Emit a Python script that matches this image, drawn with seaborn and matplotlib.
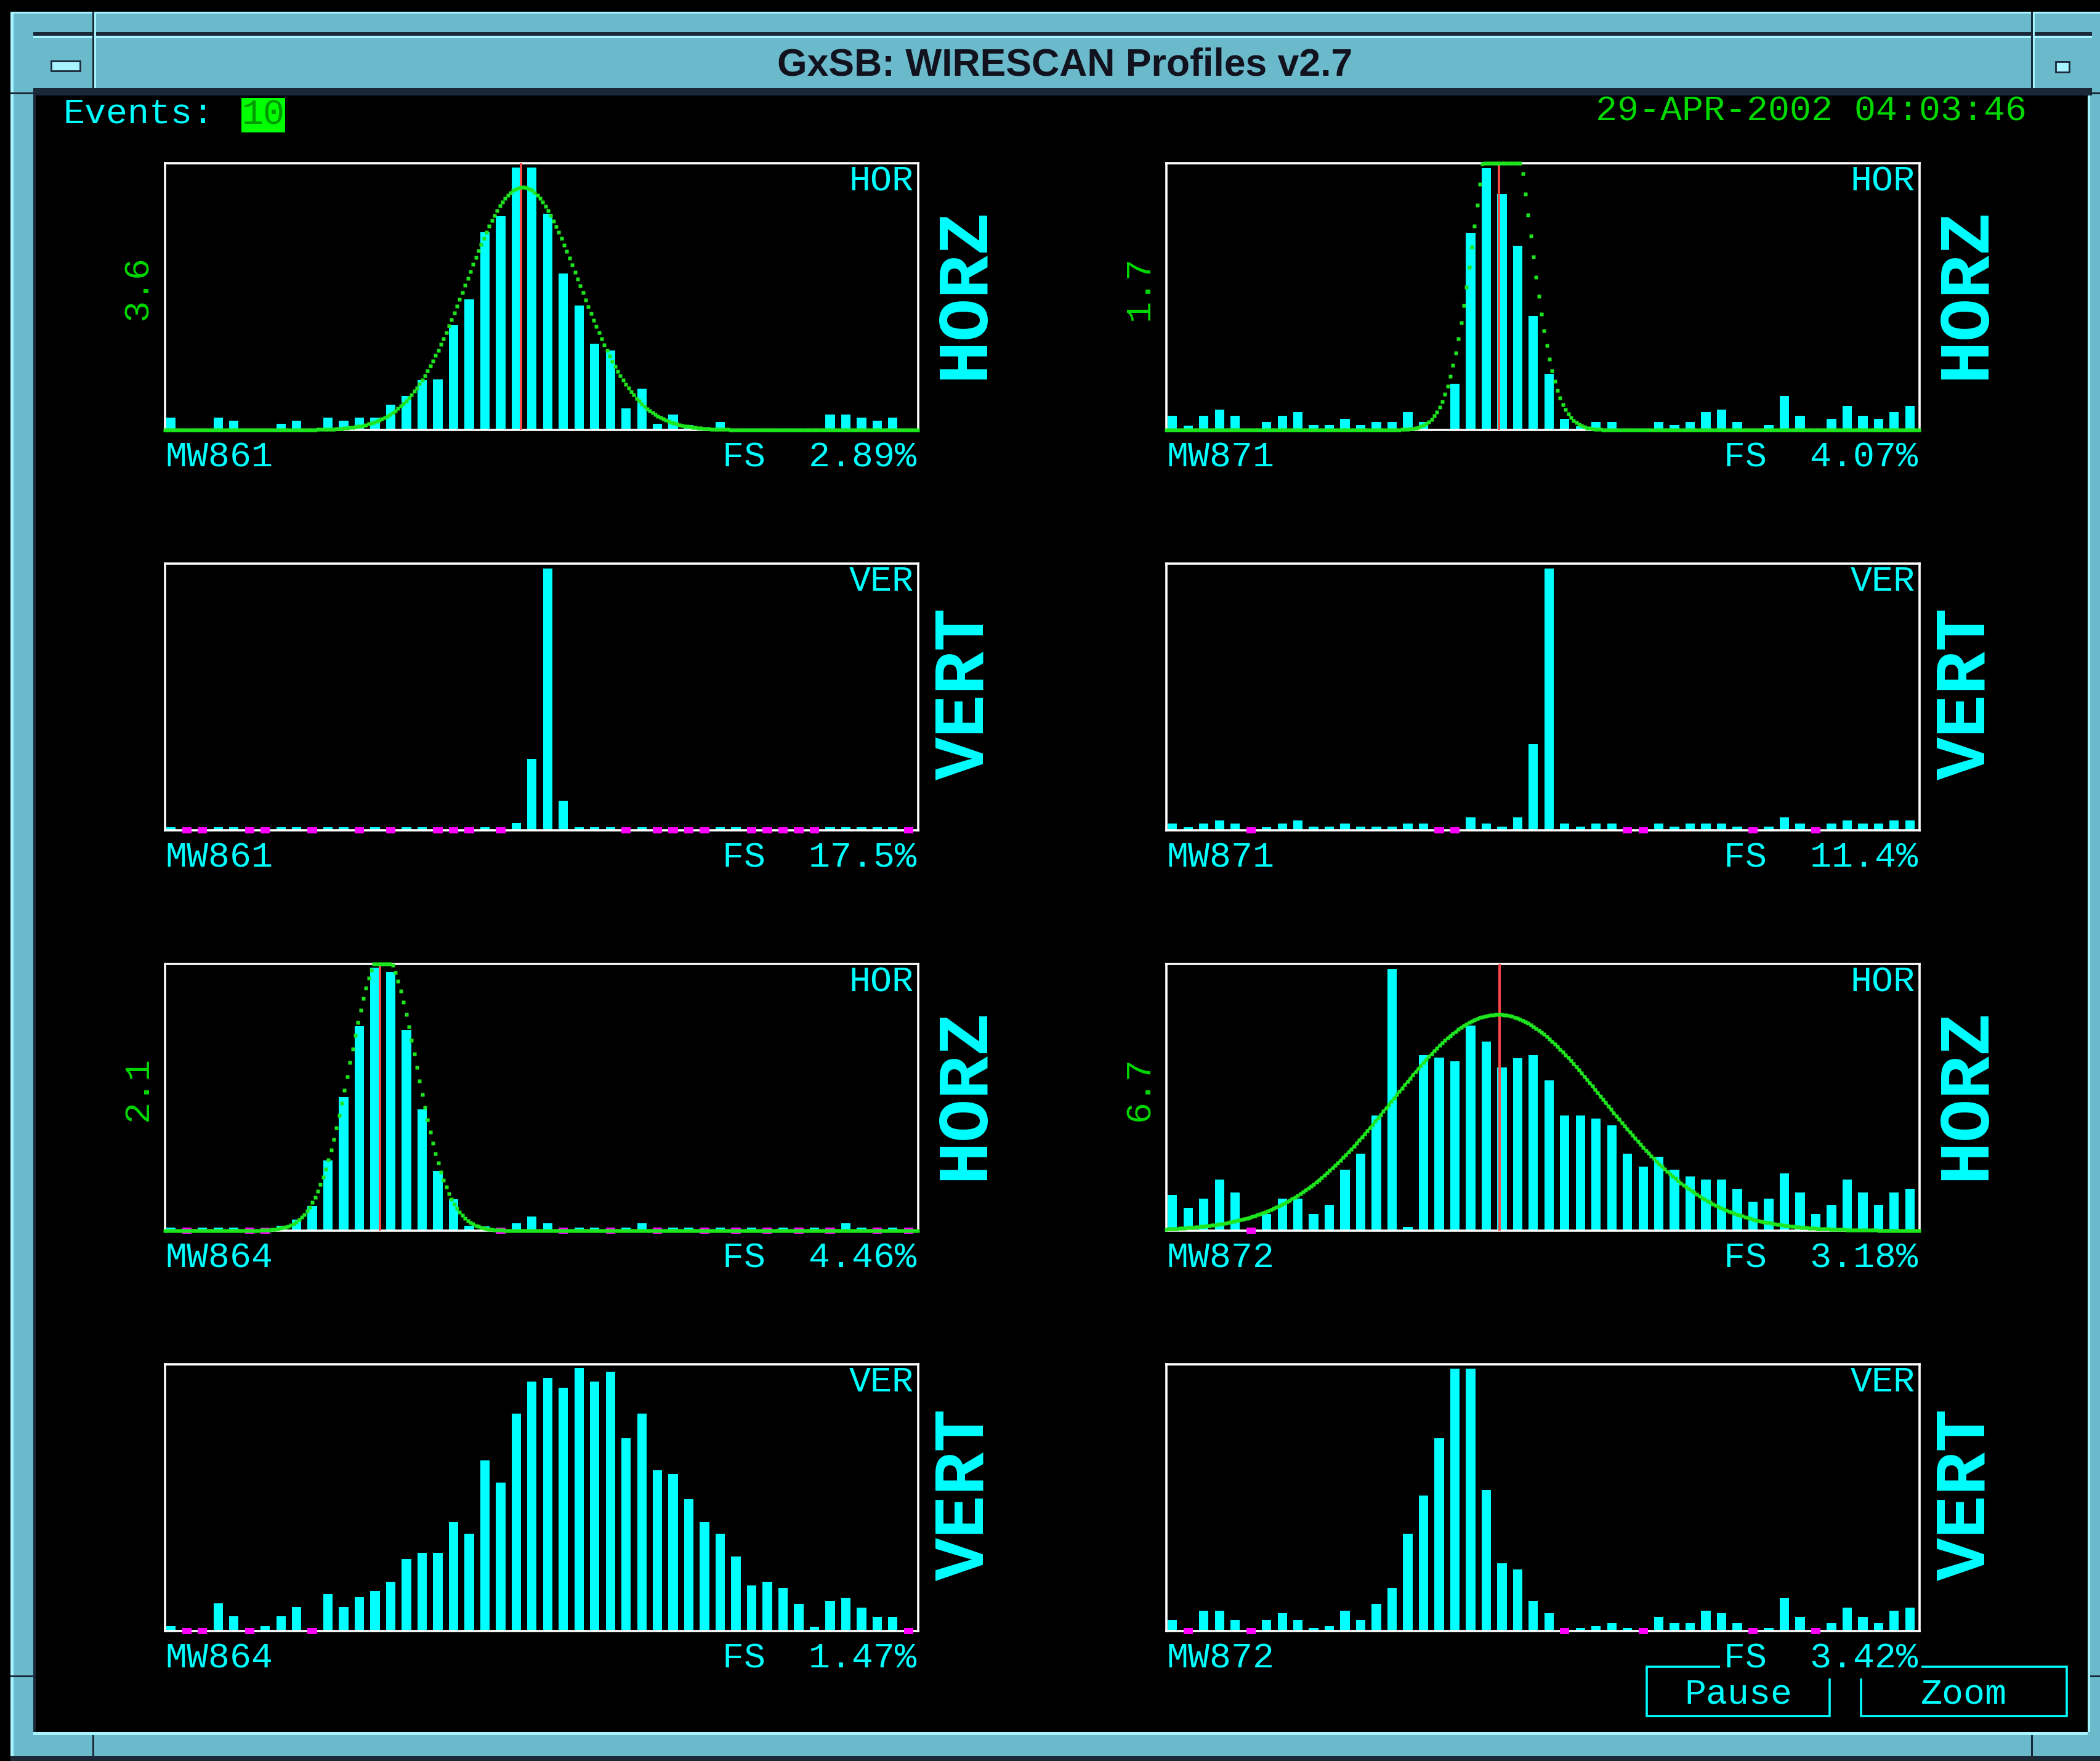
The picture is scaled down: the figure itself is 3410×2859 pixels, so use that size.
import numpy as np
import pandas as pd
import matplotlib
matplotlib.use("Agg")
import matplotlib.pyplot as plt
from matplotlib.patches import Rectangle
import seaborn as sns

# ---------------------------------------------------------------------------
# Wire-scanner profiles: 48 wire channels per plane, level as fraction of
# the full-scale reading.  Negative entries are channels below pedestal.
# ---------------------------------------------------------------------------
N_BINS = 48

mw861_hor = [0.046, 0, 0, 0.046, 0.035, 0, 0, 0.023, 0.035, 0,
             0.046, 0.035, 0.046, 0.046, 0.095, 0.127, 0.188, 0.189, 0.392, 0.490,
             0.742, 0.802, 0.984, 0.984, 0.810, 0.586, 0.467, 0.323, 0.297, 0.081,
             0.154, 0.022, 0.058, 0.019, 0, 0.031, 0, 0, 0, 0,
             0, 0, 0.058, 0.058, 0.046, 0.035, 0.046, 0]

mw871_hor = [0.054, 0.017, 0.054, 0.077, 0.054, 0, 0.031, 0.054, 0.068, 0.019,
             0.019, 0.042, 0.019, 0.031, 0.031, 0.068, 0.031, 0, 0.174, 0.739,
             0.981, 0.884, 0.691, 0.427, 0.211, 0.042, 0.015, 0.031, 0.031, 0,
             0, 0.031, 0.019, 0.031, 0.068, 0.077, 0.031, 0, 0.019, 0.126,
             0.054, 0, 0.042, 0.091, 0.054, 0.042, 0.066, 0.091]

mw861_ver = [0.012, -0.012, -0.012, 0.012, 0.012, -0.012, -0.012, 0.012, 0.012, -0.012,
             0.012, 0.012, -0.012, 0.012, -0.012, 0.012, 0.012, -0.012, -0.012, -0.012,
             0.012, -0.012, 0.027, 0.267, 0.982, 0.111, 0.012, 0.012, 0.012, -0.012,
             0.012, -0.012, -0.012, -0.012, -0.012, 0.012, 0.012, -0.012, -0.012, -0.012,
             -0.012, -0.012, 0.012, 0.012, 0.012, 0.012, 0.012, -0.012]

mw871_ver = [0.025, 0.012, 0.025, 0.036, 0.025, -0.012, 0.012, 0.025, 0.036, 0.015,
             0.015, 0.025, 0.015, 0.015, 0.015, 0.025, 0.025, -0.012, -0.012, 0.048,
             0.025, 0.015, 0.048, 0.323, 0.982, 0.025, 0.015, 0.025, 0.025, -0.012,
             -0.012, 0.025, 0.015, 0.025, 0.025, 0.025, 0.015, -0.012, 0.015, 0.048,
             0.025, -0.012, 0.025, 0.036, 0.025, 0.025, 0.036, 0.036]

mw864_hor = [0.012, -0.012, 0.012, 0.012, 0.012, -0.012, -0.012, 0.019, 0.042, 0.093,
             0.263, 0.502, 0.766, 0.985, 0.971, 0.753, 0.454, 0.225, 0.117, 0.019,
             0.017, -0.012, 0.027, 0.052, 0.027, -0.012, 0.012, 0.012, -0.012, 0.012,
             0.027, -0.012, 0.012, 0.012, -0.012, 0.012, -0.012, 0.012, -0.012, 0.012,
             -0.012, 0.012, -0.012, 0.027, 0.012, -0.012, 0.012, -0.012]

mw872_hor = [0.133, 0.085, 0.121, 0.192, 0.144, -0.012, 0.062, 0.121, 0.121, 0.062,
             0.096, 0.228, 0.288, 0.431, 0.982, 0.013, 0.659, 0.648, 0.636, 0.769,
             0.708, 0.612, 0.646, 0.659, 0.564, 0.431, 0.431, 0.421, 0.396, 0.288,
             0.241, 0.277, 0.228, 0.204, 0.192, 0.192, 0.156, 0.108, 0.121, 0.215,
             0.144, 0.062, 0.096, 0.192, 0.144, 0.096, 0.144, 0.156]

mw864_ver = [0.019, -0.012, -0.012, 0.103, 0.055, -0.012, 0.019, 0.055, 0.090, -0.012,
             0.138, 0.090, 0.126, 0.149, 0.185, 0.270, 0.293, 0.293, 0.408, 0.364,
             0.640, 0.556, 0.816, 0.936, 0.949, 0.913, 0.985, 0.936, 0.973, 0.722,
             0.816, 0.603, 0.588, 0.494, 0.408, 0.364, 0.280, 0.172, 0.185, 0.161,
             0.101, 0.017, 0.113, 0.124, 0.088, 0.054, 0.054, -0.012]

mw872_ver = [0.042, -0.012, 0.077, 0.077, 0.042, -0.012, 0.042, 0.067, 0.042, 0.012,
             0.019, 0.077, 0.042, 0.101, 0.161, 0.364, 0.508, 0.722, 0.984, 0.984,
             0.530, 0.255, 0.231, 0.113, 0.067, -0.012, 0.012, 0.019, 0.031, 0.012,
             -0.012, 0.054, 0.031, 0.031, 0.077, 0.067, 0.031, -0.012, 0.012, 0.125,
             0.054, -0.012, 0.031, 0.088, 0.054, 0.031, 0.077, 0.088]

# panel order: row by row, left column then right column
profiles = [mw861_hor, mw871_hor, mw861_ver, mw871_ver,
            mw864_hor, mw872_hor, mw864_ver, mw872_ver]
wire_names = ["MW861", "MW871", "MW861", "MW871", "MW864", "MW872", "MW864", "MW872"]
planes = ["HOR", "HOR", "VER", "VER", "HOR", "HOR", "VER", "VER"]
plane_words = {"HOR": "HORZ", "VER": "VERT"}
full_scale_pct = [2.89, 4.07, 17.5, 11.4, 4.46, 3.18, 1.47, 3.42]

# Gaussian fits of the horizontal planes (wire-bin units)
fit_panels = [0, 1, 4, 5]
fit_amplitude = [0.91, 1.30, 1.04, 0.81]
fit_centre = [22.4, 21.0, 13.5, 20.75]
fit_sigma = [3.6, 1.7, 2.1, 6.7]
centroid = [22.3, 20.8, 13.33, 20.83]
fit_solid = [False, False, False, True]

title = "GxSB: WIRESCAN Profiles v2.7"
event_count = "10"
timestamp = "29-APR-2002 04:03:46"
buttons = ["Pause", "Zoom"]

# ---------------------------------------------------------------------------
CYAN = "#00ffff"
MAGENTA = "#ff00ff"
GREEN = "#1ee61e"
LABEL_GREEN = "#00d800"
RED = "#ff4a4a"
FRAME = "#6bbacb"
LIGHT = "#a6f4ff"
DARK = "#1b2838"

W, H = 3410, 2859
sns.set_style("dark", {"axes.facecolor": "black", "figure.facecolor": "black",
                       "axes.edgecolor": "white", "axes.grid": False})
plt.rcParams["font.family"] = ["Liberation Mono", "DejaVu Sans Mono"]

fig = plt.figure(figsize=(W / 100, H / 100), dpi=100, facecolor="black")

# window decoration and free text live on a pixel-coordinate backdrop
bg = fig.add_axes([0, 0, 1, 1], zorder=0)
bg.set_xlim(0, W)
bg.set_ylim(H, 0)
bg.axis("off")
bg.set_facecolor("black")


def block(x0, y0, x1, y1, color, z=1):
    bg.add_patch(Rectangle((x0, y0), x1 - x0, y1 - y0, facecolor=color,
                           edgecolor="none", zorder=z))


# outer frame
block(17, 19, W, 155, FRAME)
block(17, 19, W, 22, LIGHT, 2)
block(17, 19, 54, H, FRAME)
block(17, 19, 22, H, LIGHT, 2)
block(3390, 19, W, H, FRAME)
block(3390, 155, 3394, 2812, LIGHT, 2)
block(17, 2812, W, H, FRAME)
block(54, 2812, 3390, 2817, LIGHT, 2)
block(17, 2851, W, H, DARK, 2)
block(54, 155, 58, 2812, DARK, 2)
# title bar bevels
block(54, 52, 3397, 58, DARK, 2)
block(54, 58, 3397, 62, LIGHT, 2)
block(54, 143, 3397, 155, DARK, 2)
for sx in (150, 3298):
    block(sx, 19, sx + 3, 143, DARK, 3)
    block(sx + 3, 19, sx + 6, 143, LIGHT, 3)
    block(sx, 2817, sx + 3, H, DARK, 3)
for sy in (150, 2720):
    block(17, sy, 54, sy + 3, DARK, 3)
    block(3394, sy, W, sy + 3, DARK, 3)
# window menu / maximise icons
bg.add_patch(Rectangle((83, 99), 47, 16, facecolor=LIGHT, edgecolor=DARK, lw=2, zorder=3))
bg.add_patch(Rectangle((3338, 100), 22, 17, facecolor=LIGHT, edgecolor=DARK, lw=2, zorder=3))

bg.text(1729, 106, title, ha="center", va="center", fontsize=45, fontweight="bold",
        color="#12121e", family=["Liberation Sans", "DejaVu Sans"], zorder=4)

SMALL = 42
bg.text(102, 185, "Events:", ha="left", va="center", fontsize=SMALL, color=CYAN, zorder=4)
bg.add_patch(Rectangle((392, 159), 71, 56, facecolor="#00ff00", edgecolor="none", zorder=3))
bg.text(427.5, 187, event_count, ha="center", va="center", fontsize=SMALL,
        color="#009a00", zorder=4)
bg.text(3291, 180, timestamp, ha="right", va="center", fontsize=SMALL,
        color=LABEL_GREEN, zorder=4)

# control buttons
for (x0, x1), label in zip([(2674, 2971), (3022, 3356)], buttons):
    bg.add_patch(Rectangle((x0, 2706), x1 - x0, 80, facecolor="none", edgecolor=CYAN,
                           lw=2.6, zorder=3))
    bg.text((x0 + x1) / 2, 2751, label, ha="center", va="center", fontsize=SMALL,
            color=CYAN, zorder=4)

# ---------------------------------------------------------------------------
rows_top = [265, 915, 1565, 2215]
cols_left = [268, 1894]
PW, PH = 1223, 433
X_LO, X_HI = -0.385, N_BINS - 0.385
PIXEL_STEP = 4.35 / (PW / N_BINS)

for k, values in enumerate(profiles):
    r, c = divmod(k, 2)
    left, top = cols_left[c], rows_top[r]
    ax = fig.add_axes([left / W, 1 - (top + PH) / H, PW / W, PH / H], zorder=1)
    ax.set_facecolor("black")

    df = pd.DataFrame({"wire": np.arange(N_BINS), "level": values})
    above = df[df["level"] > 0]
    below = df[df["level"] < 0]
    sns.barplot(data=above, x="wire", y="level", native_scale=True, width=0.6,
                color=CYAN, saturation=1, errorbar=None, edgecolor="none",
                linewidth=0, ax=ax)
    ax.bar(below["wire"], -2 * below["level"], bottom=below["level"], width=0.6,
           color=MAGENTA, linewidth=0, zorder=3, clip_on=False)

    if k in fit_panels:
        j = fit_panels.index(k)
        xs = np.arange(X_LO, X_HI, PIXEL_STEP)
        ys = fit_amplitude[j] * np.exp(-0.5 * ((xs - fit_centre[j]) / fit_sigma[j]) ** 2)
        ys = np.clip(ys, 0, 1.0)
        if fit_solid[j]:
            ax.plot(xs, ys, color=GREEN, lw=2.6, zorder=5, clip_on=False)
        ax.plot(xs, ys, ls="none", marker="s", ms=4.0, mec="none", mfc=GREEN,
                zorder=5, clip_on=False)
        ax.axvline(centroid[j], color=RED, lw=2.8, zorder=4)
        bg.text(left - 44, top + 202, f"{fit_sigma[j]:.1f}", rotation=90,
                ha="center", va="center", fontsize=SMALL, color=LABEL_GREEN, zorder=4)

    ax.set_xlim(X_LO, X_HI)
    ax.set_ylim(0, 1.0)
    ax.set_xticks([])
    ax.set_yticks([])
    ax.set_xlabel("")
    ax.set_ylabel("")
    for sp in ax.spines.values():
        sp.set_visible(True)
        sp.set_color("white")
        sp.set_linewidth(2.6)

    ax.text(0.994, 0.932, planes[k], transform=ax.transAxes, ha="right", va="center",
            fontsize=SMALL, color=CYAN, zorder=6)

    bg.text(left, top + PH + 44, wire_names[k], ha="left", va="center",
            fontsize=SMALL, color=CYAN, zorder=4)
    bg.text(left + PW - 3, top + PH + 44, f"FS  {full_scale_pct[k]:.3g}%", ha="right",
            va="center", fontsize=SMALL, color=CYAN, zorder=5,
            bbox=dict(facecolor="black", edgecolor="none", pad=4))
    bg.text(left + PW + 75, top + 211, plane_words[planes[k]], rotation=90,
            ha="center", va="center", fontsize=84, fontweight="bold", color=CYAN, zorder=4)

fig.savefig("out.png", dpi=100, facecolor="black")
